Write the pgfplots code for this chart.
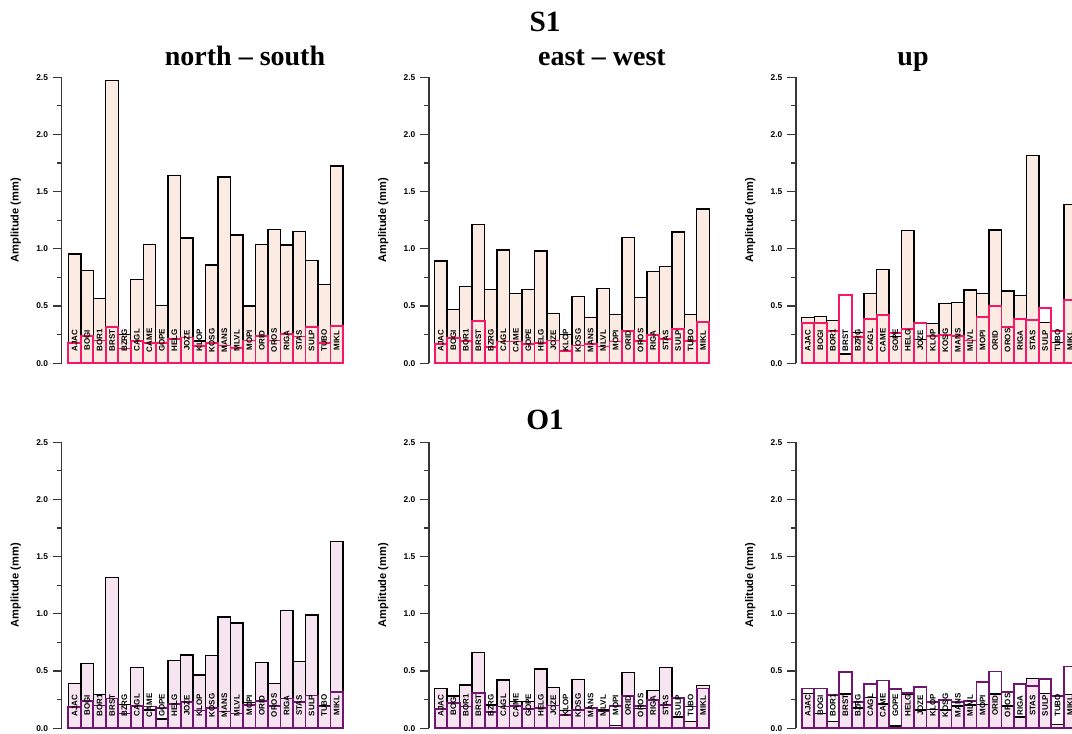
\documentclass[border=0pt]{standalone}
\usepackage{fontspec}
\setmainfont{Liberation Sans}
\newfontfamily\tnr{Liberation Serif}
\usepackage{pgfplots}
\usepackage{pgfplotstable}
\pgfplotsset{compat=1.18}
\definecolor{peach}{RGB}{251,235,226}
\definecolor{lav}{RGB}{246,228,241}
\definecolor{rd}{RGB}{245,24,104}
\definecolor{pu}{RGB}{112,22,112}
\definecolor{axc}{RGB}{55,55,55}

% x  lab  b (black, filled)  r (coloured outline)
\pgfplotstableread{
x lab b r
0 AJAC 0.956 0.180
1 BOGI 0.810 0.240
2 BOR1 0.565 0.200
3 BRST 2.470 0.315
4 BZRG 0.250 0.130
5 CAGL 0.734 0.195
6 CAME 1.040 0.180
7 GOPE 0.504 0.175
8 HELG 1.640 0.210
9 JOZE 1.095 0.225
10 KLOP 0.195 0.150
11 KOSG 0.860 0.175
12 MANS 1.630 0.155
13 MLVL 1.120 0.135
14 MOPI 0.500 0.200
15 ORID 1.040 0.240
16 OROS 1.170 0.200
17 RIGA 1.034 0.255
18 STAS 1.150 0.235
19 SULP 0.900 0.320
20 TUBO 0.690 0.180
21 MIKL 1.725 0.325
}\nsS
\pgfplotstableread{
x lab b r
0 AJAC 0.895 0.170
1 BOGI 0.470 0.220
2 BOR1 0.670 0.195
3 BRST 1.215 0.367
4 BZRG 0.647 0.140
5 CAGL 0.990 0.190
6 CAME 0.610 0.190
7 GOPE 0.647 0.170
8 HELG 0.982 0.180
9 JOZE 0.434 0.200
10 KLOP 0.250 0.110
11 KOSG 0.586 0.155
12 MANS 0.400 0.166
13 MLVL 0.656 0.146
14 MOPI 0.425 0.190
15 ORID 1.100 0.280
16 OROS 0.574 0.195
17 RIGA 0.800 0.245
18 STAS 0.845 0.210
19 SULP 1.148 0.297
20 TUBO 0.428 0.195
21 MIKL 1.350 0.360
}\ewS
\pgfplotstableread{
x lab b r
0 AJAC 0.400 0.350
1 BOGI 0.410 0.352
2 BOR1 0.373 0.285
3 BRST 0.080 0.597
4 BZRG 0.270 0.227
5 CAGL 0.610 0.388
6 CAME 0.820 0.420
7 GOPE 0.233 0.268
8 HELG 1.160 0.303
9 JOZE 0.210 0.355
10 KLOP 0.347 0.236
11 KOSG 0.525 0.250
12 MANS 0.530 0.236
13 MLVL 0.640 0.200
14 MOPI 0.610 0.408
15 ORID 1.165 0.500
16 OROS 0.632 0.320
17 RIGA 0.594 0.390
18 STAS 1.815 0.380
19 SULP 0.355 0.484
20 TUBO 0.180 0.285
21 MIKL 1.390 0.553
}\upS
\pgfplotstableread{
x lab b r
0 AJAC 0.390 0.184
1 BOGI 0.565 0.240
2 BOR1 0.295 0.200
3 BRST 1.320 0.260
4 BZRG 0.210 0.130
5 CAGL 0.530 0.198
6 CAME 0.160 0.190
7 GOPE 0.080 0.175
8 HELG 0.590 0.210
9 JOZE 0.642 0.228
10 KLOP 0.467 0.155
11 KOSG 0.636 0.175
12 MANS 0.974 0.146
13 MLVL 0.919 0.130
14 MOPI 0.225 0.204
15 ORID 0.575 0.240
16 OROS 0.394 0.198
17 RIGA 1.030 0.260
18 STAS 0.583 0.230
19 SULP 0.992 0.286
20 TUBO 0.198 0.190
21 MIKL 1.634 0.320
}\nsO
\pgfplotstableread{
x lab b r
0 AJAC 0.347 0.170
1 BOGI 0.283 0.220
2 BOR1 0.380 0.190
3 BRST 0.660 0.306
4 BZRG 0.204 0.140
5 CAGL 0.423 0.190
6 CAME 0.233 0.195
7 GOPE 0.233 0.170
8 HELG 0.520 0.175
9 JOZE 0.359 0.200
10 KLOP 0.155 0.117
11 KOSG 0.429 0.160
12 MANS 0.175 0.175
13 MLVL 0.160 0.146
14 MOPI 0.023 0.195
15 ORID 0.490 0.283
16 OROS 0.175 0.195
17 RIGA 0.330 0.248
18 STAS 0.534 0.204
19 SULP 0.100 0.268
20 TUBO 0.058 0.190
21 MIKL 0.373 0.347
}\ewO
\pgfplotstableread{
x lab b r
0 AJAC 0.306 0.347
1 BOGI 0.130 0.347
2 BOR1 0.058 0.289
3 BRST 0.300 0.493
4 BZRG 0.178 0.228
5 CAGL 0.270 0.385
6 CAME 0.213 0.417
7 GOPE 0.020 0.341
8 HELG 0.298 0.306
9 JOZE 0.160 0.359
10 KLOP 0.166 0.233
11 KOSG 0.160 0.248
12 MANS 0.195 0.233
13 MLVL 0.204 0.242
14 MOPI 0.210 0.408
15 ORID 0.300 0.496
16 OROS 0.195 0.318
17 RIGA 0.100 0.390
18 STAS 0.437 0.370
19 SULP 0.306 0.429
20 TUBO 0.035 0.283
21 MIKL 0.298 0.540
}\upO

\pgfplotsset{
  panel/.style={
    x=9.36pt, y=85.8pt, ymin=0, ymax=2.5, xmax=21.5,
    anchor=south west, clip=false,
    axis x line=none, axis y line=left,
    y axis line style={-, line width=1.1pt, draw=axc},
    ytick={0,0.5,1,1.5,2,2.5}, minor y tick num=1,
    tick align=outside, major tick length=6.75pt, minor tick length=3.4pt,
    every tick/.style={axc, line width=0.9pt},
    /pgf/number format/assume math mode=true,
    yticklabel style={font=\bfseries\fontsize{6.3}{7}\selectfont,
      /pgf/number format/fixed, /pgf/number format/fixed zerofill,
      /pgf/number format/precision=1},
    ylabel={Amplitude (mm)},
    ylabel style={at={(axis description cs:-0.163,0.5)}, anchor=center,
      font=\bfseries\fontsize{8.3}{10}\selectfont},
  },
  blk/.style={ybar, bar width=1, bar shift=0pt, draw=black, line width=1.05pt, fill=#1},
  col/.style={ybar, bar width=1, bar shift=0pt, draw=#1, line width=1.35pt, fill=none},
  labs/.style={draw=none, mark=none, nodes near coords, point meta=explicit symbolic,
    every node near coord/.append style={rotate=90, anchor=center, inner sep=0pt,
      font=\bfseries\fontsize{6}{7}\selectfont}},
}

\begin{document}
\begin{tikzpicture}
\useasboundingbox (0,0) rectangle (804pt,549.75pt);
\clip (0,0) rectangle (804pt,549.75pt);

% ---------------- S1 ----------------
\begin{axis}[panel, xmin=-1.03, at={(46.28pt,277.28pt)}]
\addplot[blk=peach] table[x=x,y=b]{\nsS};
\addplot[col=rd] table[x=x,y=r]{\nsS};
\addplot[labs] table[x=x,y expr=0.2,meta=lab]{\nsS};
\end{axis}
\begin{axis}[panel, xmin=-0.956, at={(321.75pt,277.28pt)}]
\addplot[blk=peach] table[x=x,y=b]{\ewS};
\addplot[col=rd] table[x=x,y=r]{\ewS};
\addplot[labs] table[x=x,y expr=0.2,meta=lab]{\ewS};
\end{axis}
\begin{axis}[panel, xmin=-0.96, at={(597pt,277.28pt)}]
\addplot[blk=peach] table[x=x,y=b]{\upS};
\addplot[col=rd] table[x=x,y=r]{\upS};
\addplot[labs] table[x=x,y expr=0.2,meta=lab]{\upS};
\end{axis}

% ---------------- O1 ----------------
\begin{axis}[panel, xmin=-1.03, at={(46.28pt,3.53pt)}]
\addplot[blk=lav] table[x=x,y=b]{\nsO};
\addplot[col=pu] table[x=x,y=r]{\nsO};
\addplot[labs] table[x=x,y expr=0.2,meta=lab]{\nsO};
\end{axis}
\begin{axis}[panel, xmin=-0.956, at={(321.75pt,3.53pt)}]
\addplot[blk=lav] table[x=x,y=b]{\ewO};
\addplot[col=pu] table[x=x,y=r]{\ewO};
\addplot[labs] table[x=x,y expr=0.2,meta=lab]{\ewO};
\end{axis}
\begin{axis}[panel, xmin=-0.96, at={(597pt,3.53pt)}]
\addplot[blk=lav] table[x=x,y=b]{\upO};
\addplot[col=pu] table[x=x,y=r]{\upO};
\addplot[labs] table[x=x,y expr=0.2,meta=lab]{\upO};
\end{axis}

% ---------------- titles ----------------
\node[anchor=base, font=\tnr\bfseries\fontsize{22}{26}\selectfont] at (408.75pt,525.98pt) {S1};
\node[anchor=base, font=\tnr\bfseries\fontsize{21}{25}\selectfont] at (183.75pt,500.48pt) {north – south};
\node[anchor=base, font=\tnr\bfseries\fontsize{21}{25}\selectfont] at (451.5pt,500.48pt) {east – west};
\node[anchor=base, font=\tnr\bfseries\fontsize{21}{25}\selectfont] at (684.75pt,500.48pt) {up};
\node[anchor=base, font=\tnr\bfseries\fontsize{22}{26}\selectfont] at (408.75pt,227.25pt) {O1};
\end{tikzpicture}
\end{document}
